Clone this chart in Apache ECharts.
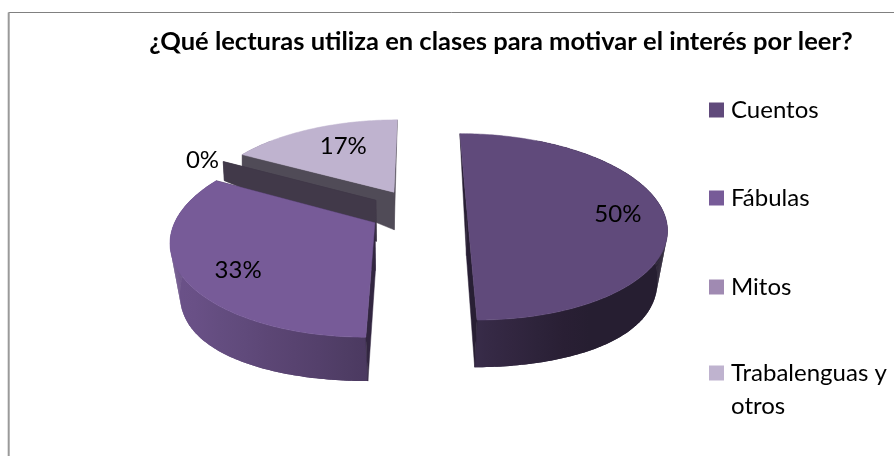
<!DOCTYPE html>
<html><head><meta charset="utf-8">
<style>html,body{margin:0;padding:0;background:#fff}#c{width:894px;height:456px}</style>
<script src="https://cdn.jsdelivr.net/npm/echarts@6/dist/echarts.min.js"></script>
</head><body><div id="c"></div>
<script>
const titleText = '¿Qué lecturas utiliza en clases para motivar el interés por leer?';
const categories = ['Cuentos', 'Fábulas', 'Mitos', 'Trabalenguas y otros'];
const percents = [50, 33, 0, 17];
const colors = ['#604a7b', '#775b98', '#a28fb7', '#bfb3cf'];
const legendColors = ['#604a7b', '#775b98', '#a08ab2', '#bfb3cf'];
const wallFactors = [0.42, 0.42, 0.4, 0.42];
const labelRadius = [0.78, 0.8, 1.28, 0.72];
const labelNudge = [[-2, 3], [15, 6], [18, 9], [10, 1]];
const legendTops = [93, 181, 270, 356];

// camera model of the tilted pie
const X0 = 418, Y0 = 211, SX = 196, SY = 90.5, K = 0.17, EXPLODE = 0.25;
function proj(U, V) { const w = 1 / (1 - K * V); return [X0 + SX * U * w, Y0 + SY * V * w]; }
function depth(V) {
  const d = 40 + 5 * (V + 0.15) - 25 * (V + 0.15) * (V - 1.05);
  return Math.max(0, d);
}
function lowerPoint(p, V, isApex) {
  const pull = isApex ? 0.012 : 0.04 * Math.max(0, Math.min(1, (V + 0.7) / 0.7));
  return [X0 + (p[0] - X0) * (1 - pull), p[1] + depth(V)];
}
function shade(hex, f) {
  const n = parseInt(hex.slice(1), 16);
  const c = [(n >> 16) & 255, (n >> 8) & 255, n & 255].map(v => Math.round(v * f));
  return 'rgb(' + c.join(',') + ')';
}
function rimFactor(u) {
  return u < 0 ? 0.62 + 0.28 * Math.min(1, -u) : 0.6 - 0.2 * Math.min(1, u * 1.8);
}
const total = percents.reduce((a, b) => a + b, 0);
const rad = d => d * Math.PI / 180;

function sliceItem(i) {
  return function (params, api) {
    let before = 0;
    for (let j = 0; j < i; j++) before += percents[j];
    const a0 = before / total * 360;
    const a1 = a0 + api.value(0) / total * 360;
    const mid = rad((a0 + a1) / 2);
    const cu = EXPLODE * Math.sin(mid), cv = -EXPLODE * Math.cos(mid);
    const world = [[cu, cv]];
    const steps = Math.max(1, Math.round(a1 - a0));
    for (let s = 0; s <= steps; s++) {
      const t = rad(a0 + (a1 - a0) * s / steps);
      world.push([cu + Math.sin(t), cv - Math.cos(t)]);
    }
    const top = world.map(p => proj(p[0], p[1]));
    const low = world.map((p, k) => lowerPoint(top[k], p[1], k === 0));
    const children = [];
    const n = world.length;
    const wall = (a, b) => {
      const col = shade(colors[i], wallFactors[i]);
      children.push({
        type: 'polygon', z2: 2,
        shape: { points: [top[a], top[b], low[b], low[a]] },
        style: { fill: col, stroke: col, lineWidth: 0.5 }
      });
    };
    wall(0, 1);
    wall(0, n - 1);
    if (n > 3) {
      // rim wall with one absolute left-to-right shading ramp
      const rimPts = top.slice(1).concat(low.slice(1).reverse());
      const xs = rimPts.map(p => p[0]);
      const xMin = Math.min.apply(null, xs), xMax = Math.max.apply(null, xs);
      const cx = proj(cu, 0)[0];
      const stops = [];
      for (let s = 0; s <= 8; s++) {
        const x = xMin + (xMax - xMin) * s / 8;
        stops.push({ offset: s / 8, color: shade(colors[i], rimFactor((x - cx) / SX)) });
      }
      const ramp = { type: 'linear', x: xMin, y: 0, x2: xMax, y2: 0, global: true, colorStops: stops };
      children.push({
        type: 'polygon', z2: 1,
        shape: { points: rimPts },
        style: { fill: ramp }
      });
      for (let k = 1; k < n - 1; k++) {
        children.push({
          type: 'polygon', z2: 1,
          shape: { points: [top[k], top[k + 1], low[k + 1], low[k]] },
          style: { fill: ramp }
        });
      }
      children.push({
        type: 'polygon', z2: 3,
        shape: { points: top },
        style: { fill: colors[i], stroke: colors[i], lineWidth: 0.5 }
      });
    }
    const r = EXPLODE + labelRadius[i];
    const lp = proj(r * Math.sin(mid), -r * Math.cos(mid));
    children.push({
      type: 'text', z2: 5,
      style: {
        x: lp[0] + labelNudge[i][0], y: lp[1] + labelNudge[i][1],
        text: Math.round(api.value(0)) + '%',
        fill: '#000', font: '24px Lato', align: 'center', verticalAlign: 'middle'
      }
    });
    return { type: 'group', children };
  };
}

const series = categories.map((name, i) => ({
  type: 'custom',
  name,
  coordinateSystem: 'none',
  z: i === 3 ? 1 : i === 2 ? 2 : i === 1 ? 3 : 4,
  itemStyle: { color: legendColors[i] },
  renderItem: sliceItem(i),
  silent: true,
  animation: false,
  data: [[percents[i]]]
}));

const legend = categories.map((name, i) => ({
  left: 704, top: legendTops[i],
  padding: 5,
  data: [{ name, icon: 'rect' }],
  itemWidth: 15, itemHeight: 15,
  selectedMode: false,
  formatter: n => n === 'Trabalenguas y otros' ? 'Trabalenguas y' : n,
  textStyle: { fontFamily: 'Lato', fontSize: 24, color: '#000', padding: [0, 0, 0, 2] }
}));

const chart = echarts.init(document.getElementById('c'), null, { renderer: 'canvas' });
chart.setOption({
  animation: false,
  backgroundColor: '#fff',
  title: {
    text: titleText, left: 496, top: 24, textAlign: 'center',
    textStyle: { fontFamily: 'Lato', fontWeight: 'bold', fontSize: 25.5, color: '#000' }
  },
  legend,
  graphic: [
    { type: 'line', z: -1, shape: { x1: 8.5, y1: 12.5, x2: 894, y2: 12.5 },
      style: { stroke: '#808080', lineWidth: 1 } },
    { type: 'line', z: -1, shape: { x1: 8.7, y1: 12.5, x2: 8.7, y2: 456 },
      style: { stroke: '#9a9a9a', lineWidth: 2 } },
    { type: 'text', left: 731, top: 394,
      style: { text: 'otros', fill: '#000', font: '24px Lato' } }
  ],
  series
});
</script></body></html>
